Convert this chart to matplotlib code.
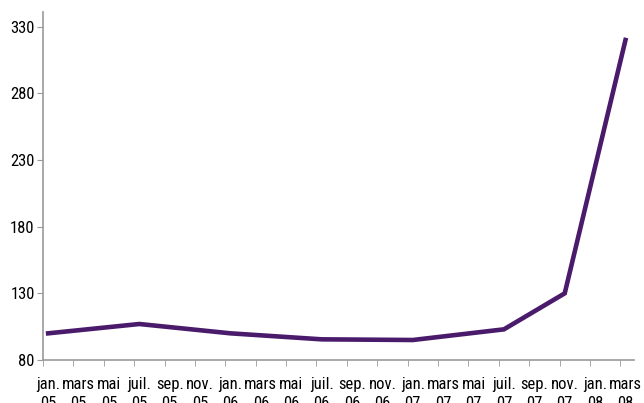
import matplotlib
matplotlib.use("Agg")
import matplotlib.pyplot as plt
from matplotlib import font_manager

mois = ["jan.", "mars", "mai", "juil.", "sep.", "nov."]
annees = ["05", "06", "07", "08"]
labels = []
for a in annees:
    for m in mois:
        labels.append(m + "\n" + a)
labels = labels[:20]

# points (indice de l'étiquette, valeur)
idx = [0, 3, 6, 9, 12, 15, 17, 19]
valeurs = [100, 107, 100, 95.5, 95, 103, 130, 320]

names = {f.name for f in font_manager.fontManager.ttflist}
fam = ["DejaVu Sans"]
for n in ["Liberation Sans Narrow", "Roboto Condensed", "Open Sans Condensed",
          "DejaVu Sans Condensed", "Roboto"]:
    if n in names:
        fam = [n, "DejaVu Sans"]
        break
plt.rcParams['font.family'] = fam
fs = 12 if "Condensed" in fam[0] or "Narrow" in fam[0] else 10

fig = plt.figure(figsize=(6.44, 4.03), dpi=100)
ax = fig.add_axes([43/644, 1 - 360/403, (634-43)/644, (360-12)/403])

ax.plot(idx, valeurs, color="#4a1a6b", linewidth=3.3, solid_joinstyle="miter")

ax.set_xlim(-0.165, 19.28)
ax.set_ylim(80, 341)
ax.set_yticks([80, 130, 180, 230, 280, 330])
ax.tick_params(axis="y", length=4, color="#999999", labelsize=fs, pad=2)

ax.set_xticks(range(20))
ax.set_xticklabels(labels, fontsize=fs, linespacing=1.35)
ax.tick_params(axis="x", length=0, pad=12)
ax.set_xticks([i - 0.17 for i in range(20)], minor=True)
ax.tick_params(axis="x", which="minor", length=4, color="#999999")

for s in ["top", "right"]:
    ax.spines[s].set_visible(False)
for s in ["left", "bottom"]:
    ax.spines[s].set_color("#999999")
    ax.spines[s].set_linewidth(1.2)

fig.savefig("out.png", dpi=100)
